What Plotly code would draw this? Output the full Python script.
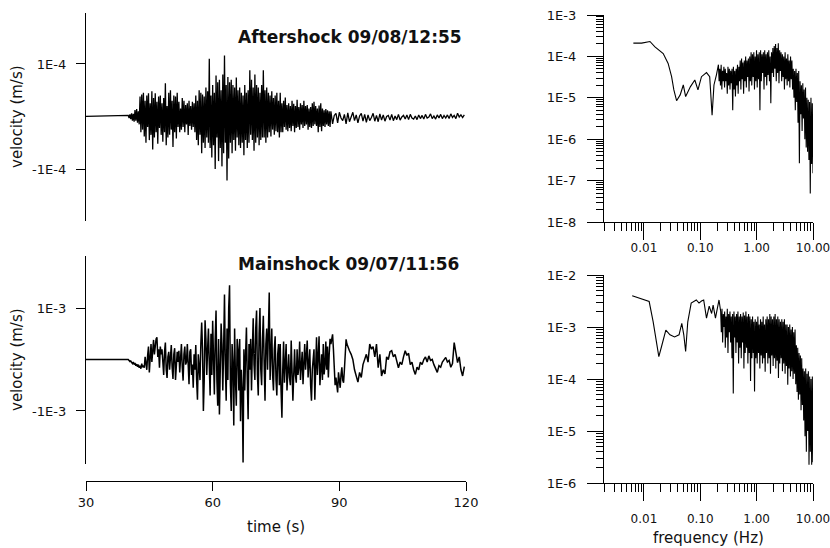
import numpy as np
import plotly.graph_objects as go

W, H = 830, 548

# ---------------- data ----------------
record_start = 30.0          # record begins (flat pre-event part, zero velocity)

# Aftershock 09/08/12:55 velocity, units of 1e-6 m/s
# part 1: from 40.0 s every 0.2 s (rows of 4 s)
after_t1, after_dt1 = 40.0, 0.2
aftershock_vel_1 = [
    2, -3, 4, -5, 6, -8, 5, -10, 12, -8, 14, -12, 10, -15, 38, -30, 42, -25, 45, -38,
    30, -50, 40, -20, 44, -45, 25, -35, 48, -63, 35, -40, 44, -30, 28, -52, 38, -22, 40, -35,
    25, -48, 35, -30, 63, -55, 20, -40, 45, -35, 50, -25, 30, -58, 40, -30, 38, -42, 45, -20,
    28, -30, 15, -25, 35, -20, 30, -30, 22, -15, 25, -35, 30, -18, 20, -25, 28, -20, 25, -30,
    40, -45, 30, -55, 50, -35, 45, -70, 42, -50, 38, -60, 55, -40, 48, -50, 110, -60, 40, -78,
    60, -55, 45, -100, 78, -40, 65, -85, 70, -60, 50, -95, 80, -70, 116, -50, 60, -122, 75, -80,
    65, -50, 70, -70, 60, -45, 55, -65, 74, -40, 50, -55, 55, -60, 45, -50, 40, -74, 60, -45,
    45, -60, 50, -50, 88, -35, 70, -45, 55, -65, 80, -50, 60, -40, 55, -55, 45, -45, 60, -40,
    88, -40, 50, -50, 55, -40, 45, -30, 40, -38, 48, -25, 35, -35, 40, -28, 45, -30, 30, -40,
    45, -30, 25, -30, 30, -20, 36, -25, 22, -28, 25, -22, 20, -28, 30, -18, 24, -30, 20, -22,
    32, -20, 18, -25, 25, -15, 22, -22, 30, -18, 20, -15, 22, -25, 15, -20, 18, -22, 25, -18,
    28, -15, 20, -18, 15, -30, 21, -20, 25, -28, 15, -18, 12, -20, 14, -15, 12, -18, 10, -20,
]
# part 2: from 88.0 s every 0.4 s (rows of 4 s)
after_t2, after_dt2 = 88.0, 0.4
aftershock_vel_2 = [
    10, -14, 2, 6, -12, 8, -3, -8, 4, -14,
    7, -10, -2, 8, -8, 3, -12, 1, 6, -9,
    4, -11, 3, -8, -2, 6, -9, 2, -10, 5,
    -7, 3, -9, 0, 2, -7, 4, -8, 1, -6,
    4, -7, -1, 2, -5, 3, -6, 4, -3, -5,
    1, -6, 3, -4, 2, -5, 4, -3, -1, 5,
    -4, 1, -5, 3, -3, 4, -4, 2, -3, 3,
    -4, 5, -2, 2, -4, 6, -1, 3, -2, 3,
]

# Mainshock 09/07/11:56 velocity, units of 1e-5 m/s
main_t1, main_dt1 = 40.0, 0.2
mainshock_vel_1 = [
    0, -2, -4, -3, -6, -8, -5, -10, -7, -12, -9, -14, -10, -16, -12, -18, -8, -15, -12, -16,
    5, -10, -20, 8, 25, -25, 15, 30, -5, 20, 38, 10, 30, 40, 43, 5, 20, -16, 25, 10,
    20, -10, -30, 15, 33, -20, -36, 5, 15, -20, 10, 28, -15, -38, 10, 22, -40, -10, 15, -5,
    17, -25, 5, 30, -15, -41, 10, 25, -10, -5, 30, -20, -48, 15, 20, -30, -10, -55, 10, -20,
    28, -40, -78, 10, -20, -40, 30, 72, 20, -100, -40, 76, 40, -30, 20, 60, -10, -70, 50, -30,
    75, -20, -68, 40, 95, -40, -90, 40, -107, -20, 70, 30, -60, 20, 126, -10, -80, 60, -40, 100,
    144, -50, -100, 30, -10, -128, 60, -40, -90, 40, 20, -60, 40, -120, -20, -60, -200, 20, -60, 10,
    62, -40, -116, 30, -20, 40, -60, 20, 80, -10, -40, 60, 95, -30, -70, 50, 100, -20, -50, 40,
    85, -10, -80, 30, 60, -20, 50, 130, -40, 20, 60, -30, -60, 20, 45, -40, -70, 10, 30, -50,
    30, -60, -113, -20, 35, -45, -10, 30, -60, -30, 10, -35, -50, 37, -10, -80, -30, 20, -30, -45,
    20, -30, -15, 35, -40, -10, 15, -48, -20, 30, -20, 5, 37, -35, -10, 20, -50, -80, -20, 10,
    20, -78, -30, 43, -30, 10, 45, -50, -20, 10, -40, 30, -29, -10, 35, -20, 25, -35, 10, 40,
    30, 45, 49, 20, -20, -50, -35, -45, -64, -25, -40, -55, -30, -15, -40, -45, -20, 10, 39, 30,
]
main_t2, main_dt2 = 92.0, 0.4
mainshock_vel_2 = [
    25, 17, 10, 0, -20, -30, -44, -25, -35, -10,
    0, 10, -5, 30, 20, 25, 5, 30, -16, 10,
    -32, -20, -28, 5, 0, 15, 17, 5, 10, -5,
    -16, -5, -10, 5, 17, 8, 12, -10, -5, -20,
    -29, -15, -20, -5, -10, 0, 5, -5, 7, -2,
    0, -10, -18, -25, -12, -15, -5, 0, 4, -5,
    -2, -15, -8, 33, 10, -6, 5, -20, -32, -14,
]

# Aftershock spectrum: low-frequency part (Hz, log10 amplitude)
after_spec_f_low = [0.0065, 0.0091, 0.0128, 0.0157, 0.022, 0.0269, 0.031, 0.034,
                    0.038, 0.044, 0.050, 0.055, 0.067, 0.080, 0.091, 0.105, 0.129,
                    0.147, 0.162, 0.175, 0.194]
after_spec_logA_low = [-3.68, -3.68, -3.64, -3.77, -3.93, -4.17, -4.49, -4.81,
                       -5.07, -4.93, -4.69, -4.97, -4.73, -4.57, -4.81, -4.49, -4.39,
                       -4.49, -5.42, -4.69, -4.44]
# Aftershock spectrum: dense band 0.21 - 10 Hz (log-spaced samples)
after_spec_band = (0.21, 10.0)
after_spec_logA_band = [
    -4.2, -4.6, -4.3, -4.7, -4.2, -4.8, -4.35, -4.6, -4.25, -4.75,
    -4.3, -4.6, -4.4, -4.9, -4.25, -4.7, -4.3, -4.8, -4.35, -4.65,
    -4.3, -5.3, -4.25, -4.8, -4.35, -4.97, -4.3, -4.7, -4.2, -4.9,
    -4.25, -4.6, -4.1, -4.8, -4.05, -4.55, -4.15, -4.9, -4.1, -4.6,
    -4.0, -4.75, -4.1, -4.5, -4.05, -4.85, -4.0, -4.6, -3.9, -4.7,
    -3.95, -4.5, -3.9, -4.8, -4.0, -4.6, -3.85, -4.75, -3.95, -4.55,
    -3.9, -5.3, -3.85, -4.6, -3.95, -4.4, -3.9, -4.8, -3.85, -4.5,
    -3.95, -4.7, -3.9, -4.45, -3.85, -4.6, -4.0, -5.13, -3.9, -4.4,
    -3.8, -4.5, -3.75, -4.3, -3.7, -4.6, -3.8, -4.4, -3.68, -4.65,
    -3.85, -4.35, -3.9, -4.6, -3.95, -4.5, -4.0, -4.8, -3.9, -4.55,
    -4.05, -4.7, -3.95, -4.6, -4.1, -4.75, -4.0, -4.55, -4.1, -4.8,
    -4.3, -5.0, -4.35, -5.3, -4.3, -5.1, -4.4, -5.6, -4.35, -6.58,
    -4.6, -5.4, -4.7, -5.8, -4.65, -5.5, -4.8, -6.0, -4.75, -6.2,
    -5.0, -6.3, -5.05, -6.5, -5.1, -7.31, -5.0, -6.6, -5.13, -6.82,
]

# Mainshock spectrum: low-frequency part
main_spec_f_low = [0.0062, 0.0085, 0.0124, 0.0146, 0.0167, 0.0184, 0.0205, 0.0245,
                   0.029, 0.035, 0.042, 0.047, 0.051, 0.055, 0.060, 0.069, 0.085,
                   0.095, 0.105, 0.115, 0.129, 0.144, 0.159, 0.169, 0.186, 0.199,
                   0.215]
main_spec_logA_low = [-2.40, -2.45, -2.51, -2.90, -3.28, -3.57, -3.38, -3.06,
                      -3.15, -3.19, -3.15, -2.93, -3.15, -3.47, -2.90, -2.54, -2.48,
                      -2.54, -2.50, -2.48, -2.83, -2.60, -2.74, -2.58, -2.83, -2.64,
                      -2.48]
main_spec_band = (0.23, 10.0)
main_spec_logA_band = [
    -2.7, -3.1, -2.65, -3.3, -2.75, -3.0, -2.7, -3.4, -2.8, -3.2,
    -2.65, -3.5, -2.75, -3.1, -2.7, -3.3, -2.8, -3.6, -2.75, -4.28,
    -2.7, -3.2, -2.8, -3.5, -2.75, -3.3, -2.7, -3.7, -2.8, -3.4,
    -2.75, -3.6, -2.8, -3.3, -2.72, -3.8, -2.78, -3.5, -2.7, -3.4,
    -2.8, -3.7, -2.75, -3.5, -2.8, -4.04, -2.85, -3.6, -2.8, -3.5,
    -2.9, -4.24, -2.85, -3.6, -2.9, -3.7, -2.8, -3.5, -2.95, -3.8,
    -2.85, -3.55, -2.9, -3.7, -2.8, -3.6, -2.95, -3.86, -2.85, -3.5,
    -2.8, -3.7, -2.85, -3.6, -2.75, -3.9, -2.8, -3.55, -2.85, -3.75,
    -2.8, -3.6, -2.75, -3.8, -2.85, -3.65, -2.8, -3.98, -2.85, -3.7,
    -2.9, -3.6, -2.85, -3.85, -2.9, -3.7, -2.85, -3.9, -2.95, -3.75,
    -2.95, -4.11, -3.0, -3.8, -2.95, -3.95, -3.05, -3.85, -3.0, -4.0,
    -3.1, -3.9, -3.05, -4.1, -3.35, -4.25, -3.4, -4.4, -3.5, -4.3,
    -3.55, -4.6, -3.6, -4.5, -3.8, -4.8, -3.85, -5.1, -3.8, -5.4,
    -3.9, -5.0, -3.85, -5.65, -3.95, -5.4, -4.0, -5.65, -3.95, -5.6,
]

# tick labels
vel_ticks_after = ["1E-4", "-1E-4"]
vel_ticks_main = ["1E-3", "-1E-3"]
time_ticks = [30, 60, 90, 120]
freq_ticks = ["0.01", "0.10", "1.00", "10.00"]
amp_ticks_after = ["1E-8", "1E-7", "1E-6", "1E-5", "1E-4", "1E-3"]
amp_ticks_main = ["1E-6", "1E-5", "1E-4", "1E-3", "1E-2"]

# ---------------- build series ----------------
def seismogram(segments, unit):
    t = [record_start]
    v = [0.0]
    for t0, dt, vals in segments:
        t += [t0 + dt * k for k in range(len(vals))]
        v += [x * unit for x in vals]
    return t, v

t_a, v_a = seismogram([(after_t1, after_dt1, aftershock_vel_1),
                       (after_t2, after_dt2, aftershock_vel_2)], 1e-6)
t_m, v_m = seismogram([(main_t1, main_dt1, mainshock_vel_1),
                       (main_t2, main_dt2, mainshock_vel_2)], 1e-5)

def spectrum(f_low, logA_low, band, logA_band):
    fb = np.geomspace(band[0], band[1], len(logA_band))
    f = list(f_low) + list(fb)
    a = [10 ** x for x in list(logA_low) + list(logA_band)]
    return f, a

f_a, a_a = spectrum(after_spec_f_low, after_spec_logA_low, after_spec_band, after_spec_logA_band)
f_m, a_m = spectrum(main_spec_f_low, main_spec_logA_low, main_spec_band, main_spec_logA_band)

# ---------------- figure ----------------
FONT = "DejaVu Sans, Liberation Sans, sans-serif"
TXT = "#111111"

def xd(a, b):
    return [a / W, b / W]

def yd(top, bottom):
    return [1 - bottom / H, 1 - top / H]

fig = go.Figure()
for x, y, xa, ya, lw in [(t_a, v_a, "x", "y", 1.3), (t_m, v_m, "x2", "y2", 1.5),
                         (f_a, a_a, "x3", "y3", 1.1), (f_m, a_m, "x4", "y4", 1.1)]:
    fig.add_trace(go.Scatter(x=x, y=y, mode="lines", line=dict(color="black", width=lw),
                             xaxis=xa, yaxis=ya, hoverinfo="skip", showlegend=False))

ax_common = dict(showgrid=False, zeroline=False, showline=True, linecolor="black",
                 linewidth=1.3, ticks="outside", tickcolor="black", tickwidth=1.2,
                 automargin=False, ticklabeloverflow="allow")
tick_font = dict(family=FONT, size=13, color=TXT)
freq_font = dict(family=FONT, size=12, color=TXT)

def minor_vals(lo, hi):
    out = []
    for e in range(lo, hi):
        for k in range(2, 10):
            out.append(k * 10.0 ** e)
    return out

minor_x = dict(tickvals=minor_vals(-3, 1), ticklen=8, ticks="outside",
               tickcolor="black", tickwidth=1)

fig.update_layout(
    width=W, height=H, margin=dict(l=0, r=0, t=0, b=0, autoexpand=False),
    paper_bgcolor="white", plot_bgcolor="white",
    xaxis=dict(domain=xd(86, 466), range=[30, 120], visible=False, anchor="y",
               automargin=False),
    yaxis=dict(domain=yd(13, 221), range=[-1.99e-4, 1.97e-4], anchor="x",
               tickvals=[1e-4, -1e-4], ticktext=vel_ticks_after, ticklen=9,
               ticklabelstandoff=7, tickfont=tick_font, **ax_common),
    xaxis2=dict(domain=xd(86, 466), range=[30, 120], anchor="free", position=1 - 481 / H,
                tickvals=time_ticks, ticktext=[str(v) for v in time_ticks], ticklen=9,
                tickfont=tick_font, **ax_common),
    yaxis2=dict(domain=yd(256, 464), range=[-2.03e-3, 2.01e-3], anchor="x2",
                tickvals=[1e-3, -1e-3], ticktext=vel_ticks_main, ticklen=9,
                ticklabelstandoff=7, tickfont=tick_font, **ax_common),
    xaxis3=dict(type="log", domain=xd(604, 813), range=[-2.708, 1.0], anchor="y3",
                tickvals=[0.01, 0.1, 1, 10], ticktext=freq_ticks, ticklen=17,
                ticklabelstandoff=-3, minor=minor_x, tickfont=freq_font, **ax_common),
    yaxis3=dict(type="log", domain=yd(15, 222), range=[-8, -3], anchor="x3",
                tickvals=[1e-8, 1e-7, 1e-6, 1e-5, 1e-4, 1e-3], ticktext=amp_ticks_after,
                ticklen=16, ticklabelstandoff=8, tickfont=tick_font,
                minor=dict(tickvals=minor_vals(-8, -3), ticklen=7, ticks="outside",
                           tickcolor="black", tickwidth=1),
                **ax_common),
    xaxis4=dict(type="log", domain=xd(604, 813), range=[-2.708, 1.0], anchor="y4",
                tickvals=[0.01, 0.1, 1, 10], ticktext=freq_ticks, ticklen=17,
                ticklabelstandoff=7, minor=minor_x, tickfont=freq_font, **ax_common),
    yaxis4=dict(type="log", domain=yd(275, 483), range=[-6, -2], anchor="x4",
                tickvals=[1e-6, 1e-5, 1e-4, 1e-3, 1e-2], ticktext=amp_ticks_main,
                ticklen=16, ticklabelstandoff=8, tickfont=tick_font,
                minor=dict(tickvals=minor_vals(-6, -2), ticklen=7, ticks="outside",
                           tickcolor="black", tickwidth=1),
                **ax_common),
)

def ann(text, x, y, size, bold=False, angle=0, xanchor="center"):
    fig.add_annotation(text=("<b>%s</b>" % text) if bold else text,
                       x=x / W, y=1 - y / H, xref="paper", yref="paper",
                       showarrow=False, textangle=angle, xanchor=xanchor, yanchor="middle",
                       font=dict(family=FONT, size=size, color=TXT))

ann("Aftershock 09/08/12:55", 464, 37, 17, bold=True, xanchor="right")
ann("Mainshock 09/07/11:56", 461, 264, 17, bold=True, xanchor="right")
ann("velocity (m/s)", 17, 117, 15, angle=-90)
ann("velocity (m/s)", 17, 360, 15, angle=-90)
ann("time (s)", 276, 527, 15)
ann("frequency (Hz)", 708, 538, 15)

fig.write_html("out.html")
